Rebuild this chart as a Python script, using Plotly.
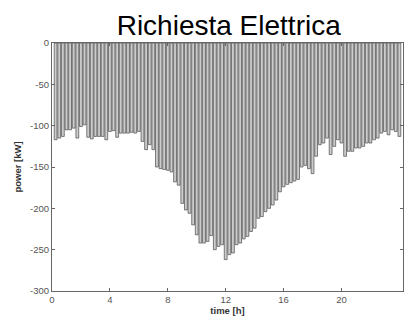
import plotly.graph_objects as go

# 15-minute electrical demand over one day (kW, drawn downward)
time_h = [0.25 * (k + 1) for k in range(96)]
power_kw = [
    -117, -115, -113, -105, -105, -103, -115, -101, -99, -114, -116, -113,
    -113, -113, -117, -107, -106, -114, -109, -109, -109, -108, -109, -107,
    -119, -129, -123, -129, -150, -152, -153, -154, -156, -168, -172, -194,
    -202, -206, -220, -232, -242, -242, -240, -233, -250, -246, -244, -262,
    -256, -254, -244, -242, -237, -234, -228, -224, -212, -210, -204, -200,
    -196, -190, -180, -174, -171, -169, -167, -165, -150, -148, -152, -158,
    -137, -123, -121, -115, -135, -125, -117, -121, -137, -131, -131, -127,
    -127, -125, -121, -121, -117, -115, -109, -107, -111, -105, -107, -113,
]

x_ticks = [0, 4, 8, 12, 16, 20]
y_ticks = [0, -50, -100, -150, -200, -250, -300]
y_tick_text = ["0", "-50", "-100", "-150", "-200", "-250", "-300"]

FONT = "Liberation Sans, Arial, sans-serif"

fig = go.Figure(
    go.Bar(
        x=time_h,
        y=power_kw,
        marker=dict(color="#cccccc", line=dict(color="#4a4a4a", width=0.7)),
        hoverinfo="x+y",
    )
)

axis_common = dict(
    showline=True,
    linecolor="#666666",
    linewidth=1,
    mirror="ticks",
    ticks="inside",
    ticklen=3,
    tickcolor="#666666",
    showgrid=False,
    zeroline=False,
    tickfont=dict(family=FONT, size=9.5, color="#555555"),
)

fig.update_layout(
    width=407,
    height=320,
    margin=dict(l=52, r=4, t=43, b=29),
    paper_bgcolor="white",
    plot_bgcolor="white",
    bargap=0.22,
    showlegend=False,
    title=dict(
        text="Richiesta Elettrica",
        x=0.562,
        xanchor="center",
        y=0.922,
        yanchor="middle",
        font=dict(family=FONT, size=28, color="#000000"),
    ),
    xaxis=dict(
        range=[0, 24.25],
        tickvals=x_ticks,
        title=dict(
            text="<b>time [h]</b>",
            standoff=0,
            font=dict(family=FONT, size=9.5, color="#333333"),
        ),
        **axis_common,
    ),
    yaxis=dict(
        range=[-300, 0],
        tickvals=y_ticks,
        ticktext=y_tick_text,
        title=dict(
            text="<b>power [kW]</b>",
            standoff=6,
            font=dict(family=FONT, size=9.5, color="#333333"),
        ),
        **axis_common,
    ),
)

fig.write_html("out.html")
